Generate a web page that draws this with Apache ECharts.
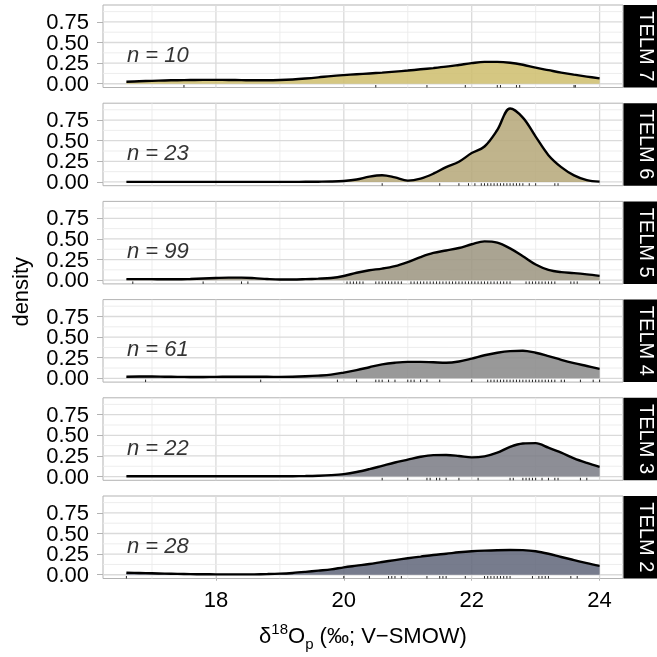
<!DOCTYPE html>
<html><head><meta charset="utf-8">
<script src="https://cdn.jsdelivr.net/npm/echarts@6/dist/echarts.min.js"></script>
<style>html,body{margin:0;padding:0;background:#fff}#c{width:657px;height:657px}</style>
</head><body><div id="c"></div>
<script>
const panels = ['TELM 7','TELM 6','TELM 5','TELM 4','TELM 3','TELM 2'];
const nCounts = [10, 23, 99, 61, 22, 28];
const xs = [16.6,16.8,17.0,17.2,17.4,17.6,17.8,18.0,18.2,18.4,18.6,18.8,19.0,19.2,19.4,19.6,19.8,
            20.0,20.2,20.4,20.6,20.8,21.0,21.2,21.4,21.6,21.8,22.0,22.2,22.4,22.6,22.8,23.0,23.2,23.4,23.6,23.8,24.0];
const dens7 = [.025,.03,.035,.04,.043,.045,.047,.047,.046,.044,.042,.042,.045,.052,.063,.077,.093,
               .105,.115,.125,.135,.147,.16,.175,.19,.207,.228,.25,.265,.265,.255,.23,.195,.165,.135,.11,.087,.065];
const dens6 = [.001,.001,.001,.001,.001,.001,.001,.001,.001,.001,.001,.001,.001,.001,.002,.003,.005,
               .012,.03,.065,.082,.055,.016,.04,.1,.18,.245,.35,.43,.63,.89,.78,.55,.325,.18,.08,.022,.004];
const dens5 = [.012,.013,.012,.01,.01,.014,.02,.026,.03,.03,.024,.014,.008,.008,.012,.018,.026,
               .05,.09,.12,.14,.17,.22,.28,.33,.36,.39,.435,.47,.455,.385,.29,.19,.125,.097,.085,.07,.052];
const dens4 = [.02,.022,.022,.02,.018,.017,.017,.018,.019,.02,.02,.019,.018,.02,.025,.033,.045,
               .07,.1,.135,.17,.19,.2,.2,.195,.19,.205,.24,.28,.31,.33,.335,.31,.27,.225,.185,.15,.115];
const dens3 = [.003,.003,.003,.003,.003,.003,.003,.003,.003,.003,.003,.003,.003,.004,.006,.01,.017,
               .03,.055,.09,.13,.17,.205,.24,.26,.262,.25,.232,.245,.29,.36,.4,.405,.35,.29,.22,.165,.117];
const dens2 = [.025,.022,.018,.014,.01,.008,.006,.005,.004,.004,.005,.008,.013,.022,.035,.05,.065,
               .09,.11,.13,.155,.178,.2,.22,.24,.255,.272,.285,.293,.298,.3,.298,.285,.255,.215,.178,.14,.107];
const rug7 = [17.5,20.5,21.3,21.9,22.4,22.45,22.7,22.75,23.6,23.62];
const rug6 = [20.6,21.5,21.8,21.95,22.05,22.15,22.2,22.25,22.3,22.35,22.4,22.45,22.5,22.55,22.6,22.65,22.7,22.75,22.8,22.9,23.0,23.3,23.35];
const rug5 = [16.7,17.8,18.4,18.5,20.05,20.1,20.15,20.2,20.25,20.3,20.5,20.55,20.6,20.65,20.7,20.75,20.8,20.85,20.9,
              21.05,21.1,21.15,21.2,21.25,21.3,21.35,21.4,21.45,21.5,21.55,21.6,21.65,21.7,21.75,21.8,21.85,21.9,21.95,
              22.0,22.05,22.1,22.15,22.2,22.25,22.3,22.35,22.4,22.45,22.5,22.55,22.6,22.85,22.9,22.95,23.0,23.05,23.1,
              23.15,23.2,23.25,23.3,23.55,23.6,23.65,24.0];
const rug4 = [16.9,18.7,19.9,20.2,20.5,20.55,20.6,20.7,20.8,21.0,21.05,21.1,21.2,21.3,21.5,22.0,22.25,22.3,22.35,22.4,
              22.45,22.5,22.55,22.6,22.65,22.7,22.75,22.8,22.85,22.9,22.95,23.0,23.05,23.1,23.15,23.2,23.25,23.3,23.4,23.45,
              23.7,23.9,24.0];
const rug3 = [20.6,21.0,21.3,21.35,21.45,21.5,21.6,21.8,22.1,22.6,22.65,22.8,22.85,22.9,22.95,23.0,23.1,23.2,23.3,23.35,23.7,23.8];
const rug2 = [16.6,20.0,20.4,20.7,20.75,20.8,20.9,21.3,21.5,21.55,21.6,21.9,22.2,22.25,22.3,22.35,22.4,22.45,22.5,22.55,
              22.6,22.95,23.05,23.1,23.15,23.2,23.55,23.65];
const densities = [dens7, dens6, dens5, dens4, dens3, dens2];
const rugs = [rug7, rug6, rug5, rug4, rug3, rug2];
const fillColors = ['#cebd6c','#b5a778','#9b947f','#878787','#797a84','#5f6579'];
const xMajor = [18,20,22,24];
const xMinor = [17,19,21,23];
const yMajor = [0,0.25,0.5,0.75];
const yMinor = [0.125,0.375,0.625,0.875];
const nLabelPos = [16.6, 0.34];

const X_MIN = 16.234, X_MAX = 24.366, Y_MIN = -0.0455, Y_MAX = 0.955;
const tops = [5, 103.2, 201.4, 299.6, 397.8, 496];
const PH = 82.5, LEFT = 103, RIGHT = 34;
const FONT = 'Liberation Sans, Arial, Helvetica, sans-serif';

const grids = [], xAxes = [], yAxes = [], series = [], graphics = [];
const gridItems = [];
xMajor.forEach(v => gridItems.push([0, v, 1]));
xMinor.forEach(v => gridItems.push([0, v, 0]));
yMajor.forEach(v => gridItems.push([1, v, 1]));
yMinor.forEach(v => gridItems.push([1, v, 0]));

panels.forEach((name, i) => {
  const last = i === panels.length - 1;
  grids.push({left: LEFT, right: RIGHT, top: tops[i], height: PH, show: true,
    borderColor: '#b3b3b3', borderWidth: 1, backgroundColor: '#fff'});
  xAxes.push({type: 'value', gridIndex: i, min: X_MIN, max: X_MAX,
    axisLine: {show: false}, splitLine: {show: false},
    axisTick: {show: last, customValues: xMajor, length: 6, lineStyle: {color: '#b3b3b3', width: 1}},
    axisLabel: {show: last, customValues: xMajor, margin: 11, color: '#000', fontSize: 22, fontFamily: FONT}
  });
  yAxes.push({type: 'value', gridIndex: i, min: Y_MIN, max: Y_MAX,
    axisLine: {show: false}, splitLine: {show: false},
    axisTick: {show: true, customValues: yMajor, length: 6, lineStyle: {color: '#b3b3b3', width: 1}},
    axisLabel: {show: false}
  });
  series.push({type: 'custom', xAxisIndex: i, yAxisIndex: i, z: 1, silent: true, data: gridItems,
    renderItem: (params, api) => {
      const cs = params.coordSys;
      const dir = api.value(0), v = api.value(1), major = api.value(2);
      let shape;
      if (dir === 0) { const p = api.coord([v, 0]); shape = {x1: p[0], y1: cs.y, x2: p[0], y2: cs.y + cs.height}; }
      else { const p = api.coord([X_MIN, v]); shape = {x1: cs.x, y1: p[1], x2: cs.x + cs.width, y2: p[1]}; }
      return {type: 'line', shape, style: {stroke: major ? '#dadada' : '#ebebeb', lineWidth: major ? 1.3 : 0.9}};
    }});
  // y tick labels, positioned through the y axis scale
  series.push({type: 'custom', xAxisIndex: i, yAxisIndex: i, z: 6, silent: true, clip: false,
    data: yMajor.map(v => [X_MIN, v]),
    renderItem: (params, api) => {
      const cs = params.coordSys;
      const v = api.value(1);
      const p = api.coord([X_MIN, v]);
      return {type: 'text', x: cs.x - 14, y: p[1] + 1,
        style: {text: v.toFixed(2), fill: '#000', font: '22px ' + FONT, align: 'right', verticalAlign: 'middle'}};
    }});
  series.push({type: 'line', xAxisIndex: i, yAxisIndex: i, z: 3, silent: true,
    data: xs.map((x, j) => [x, densities[i][j]]),
    smooth: 0.35, showSymbol: false, symbol: 'none',
    lineStyle: {color: '#000', width: 2.4},
    areaStyle: {color: fillColors[i], opacity: 0.85}
  });
  series.push({type: 'custom', xAxisIndex: i, yAxisIndex: i, z: 4, silent: true,
    data: rugs[i].map(v => [v, 0]),
    renderItem: (params, api) => {
      const cs = params.coordSys;
      const p = api.coord([api.value(0), 0]);
      const yb = cs.y + cs.height;
      return {type: 'line', shape: {x1: p[0], y1: yb, x2: p[0], y2: yb - 0.03 * cs.height},
        style: {stroke: '#222', lineWidth: 1}};
    }});
  series.push({type: 'scatter', xAxisIndex: i, yAxisIndex: i, z: 5, silent: true,
    data: [nLabelPos], symbolSize: 1, itemStyle: {color: 'rgba(0,0,0,0)'},
    label: {show: true, position: 'right', distance: 0, formatter: 'n = ' + nCounts[i],
      fontStyle: 'italic', fontSize: 22, color: '#000', fontFamily: FONT}
  });
  graphics.push({type: 'rect', shape: {x: 623.5, y: tops[i], width: 40, height: PH}, style: {fill: '#000'}, silent: true});
  graphics.push({type: 'text', x: 645.5, y: tops[i] + PH / 2, rotation: -Math.PI / 2, silent: true,
    style: {text: name, fill: '#fff', font: '20px ' + FONT, align: 'center', verticalAlign: 'middle'}});
});

graphics.push({type: 'text', x: 22, y: (tops[0] + tops[5] + PH) / 2, rotation: Math.PI / 2, silent: true,
  style: {text: 'density', fill: '#000', font: '22px ' + FONT, align: 'center', verticalAlign: 'middle'}});
graphics.push({type: 'text', x: LEFT + (657 - RIGHT - LEFT) / 2, y: 637, silent: true,
  style: {text: '{a|δ}{s|18}{a|O}{b|p}{a| (‰; V−SMOW)}', align: 'center', verticalAlign: 'middle',
    fill: '#000', font: '22px ' + FONT,
    rich: {
      a: {fontSize: 22, fontFamily: FONT, fill: '#000', lineHeight: 30, verticalAlign: 'middle'},
      s: {fontSize: 15, fontFamily: FONT, fill: '#000', lineHeight: 30, verticalAlign: 'top'},
      b: {fontSize: 15, fontFamily: FONT, fill: '#000', lineHeight: 30, verticalAlign: 'bottom'}
    }}});

const chart = echarts.init(document.getElementById('c'), null, {renderer: 'canvas'});
chart.setOption({
  animation: false,
  backgroundColor: '#fff',
  grid: grids, xAxis: xAxes, yAxis: yAxes, series: series, graphic: graphics
});
</script></body></html>
